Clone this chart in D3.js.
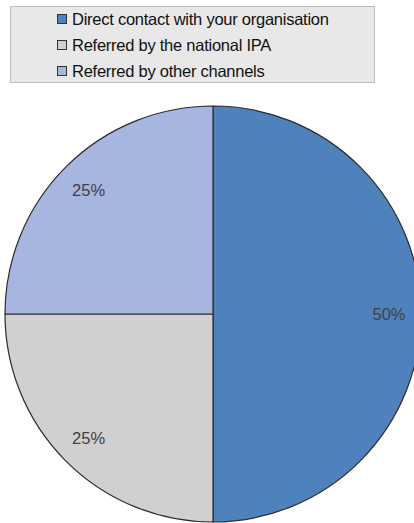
<!DOCTYPE html>
<html>
<head>
<meta charset="utf-8">
<script src="https://cdn.jsdelivr.net/npm/d3@7"></script>
<style>
  html, body { margin: 0; padding: 0; background: #ffffff; }
  svg { display: block; }
</style>
</head>
<body>
<div id="chart"></div>
<script>
// Source of contact, share of respondents
const categories = [
  "Direct contact with your organisation",
  "Referred by the national IPA",
  "Referred by other channels"
];
const values = [50, 25, 25];
const colors = ["#4F81BD", "#D0D0D0", "#A7B5E1"];

const width = 414, height = 523;
const cx = 213, cy = 314, radius = 208;

const svg = d3.select("#chart").append("svg")
  .attr("width", width)
  .attr("height", height)
  .style("font-family", "'Liberation Sans', Arial, sans-serif");

// Legend box
const legend = svg.append("g");
legend.append("rect")
  .attr("x", 10.5).attr("y", 6.5)
  .attr("width", 364).attr("height", 76)
  .attr("fill", "#E8E8E8")
  .attr("stroke", "#BDBDBD");

const rowY = d3.scalePoint().domain(categories).range([19, 71]);
const items = legend.selectAll("g.item").data(categories).enter()
  .append("g").attr("class", "item")
  .attr("transform", d => `translate(0,${rowY(d)})`);
items.append("rect")
  .attr("x", 57.5).attr("y", -4.5)
  .attr("width", 9).attr("height", 9)
  .attr("fill", (d, i) => colors[i])
  .attr("stroke", "#333");
items.append("text")
  .attr("x", 72).attr("y", 0)
  .attr("dy", "0.36em")
  .attr("font-size", 16.5)
  .attr("fill", "#111")
  .style("letter-spacing", "-0.25px")
  .text(d => d);

// Pie, starting at 12 o'clock and running clockwise
const pie = d3.pie().value(d => d).sort(null);
const arcs = pie(values);
const arc = d3.arc().innerRadius(0).outerRadius(radius);
const labelArc = d3.arc().innerRadius(176).outerRadius(176);

const g = svg.append("g").attr("transform", `translate(${cx},${cy})`);
g.selectAll("path").data(arcs).enter().append("path")
  .attr("d", arc)
  .attr("fill", (d, i) => colors[i])
  .attr("stroke", "#2b2b2b")
  .attr("stroke-width", 1.2)
  .attr("stroke-linejoin", "round");

g.selectAll("text.val").data(arcs).enter().append("text")
  .attr("class", "val")
  .attr("transform", d => {
    const [x, y] = labelArc.centroid(d);
    return `translate(${x},${y})`;
  })
  .attr("text-anchor", "middle")
  .attr("dy", "0.36em")
  .attr("font-size", 16.5)
  .attr("fill", "#404040")
  .text(d => d.data + "%");
</script>
</body>
</html>
